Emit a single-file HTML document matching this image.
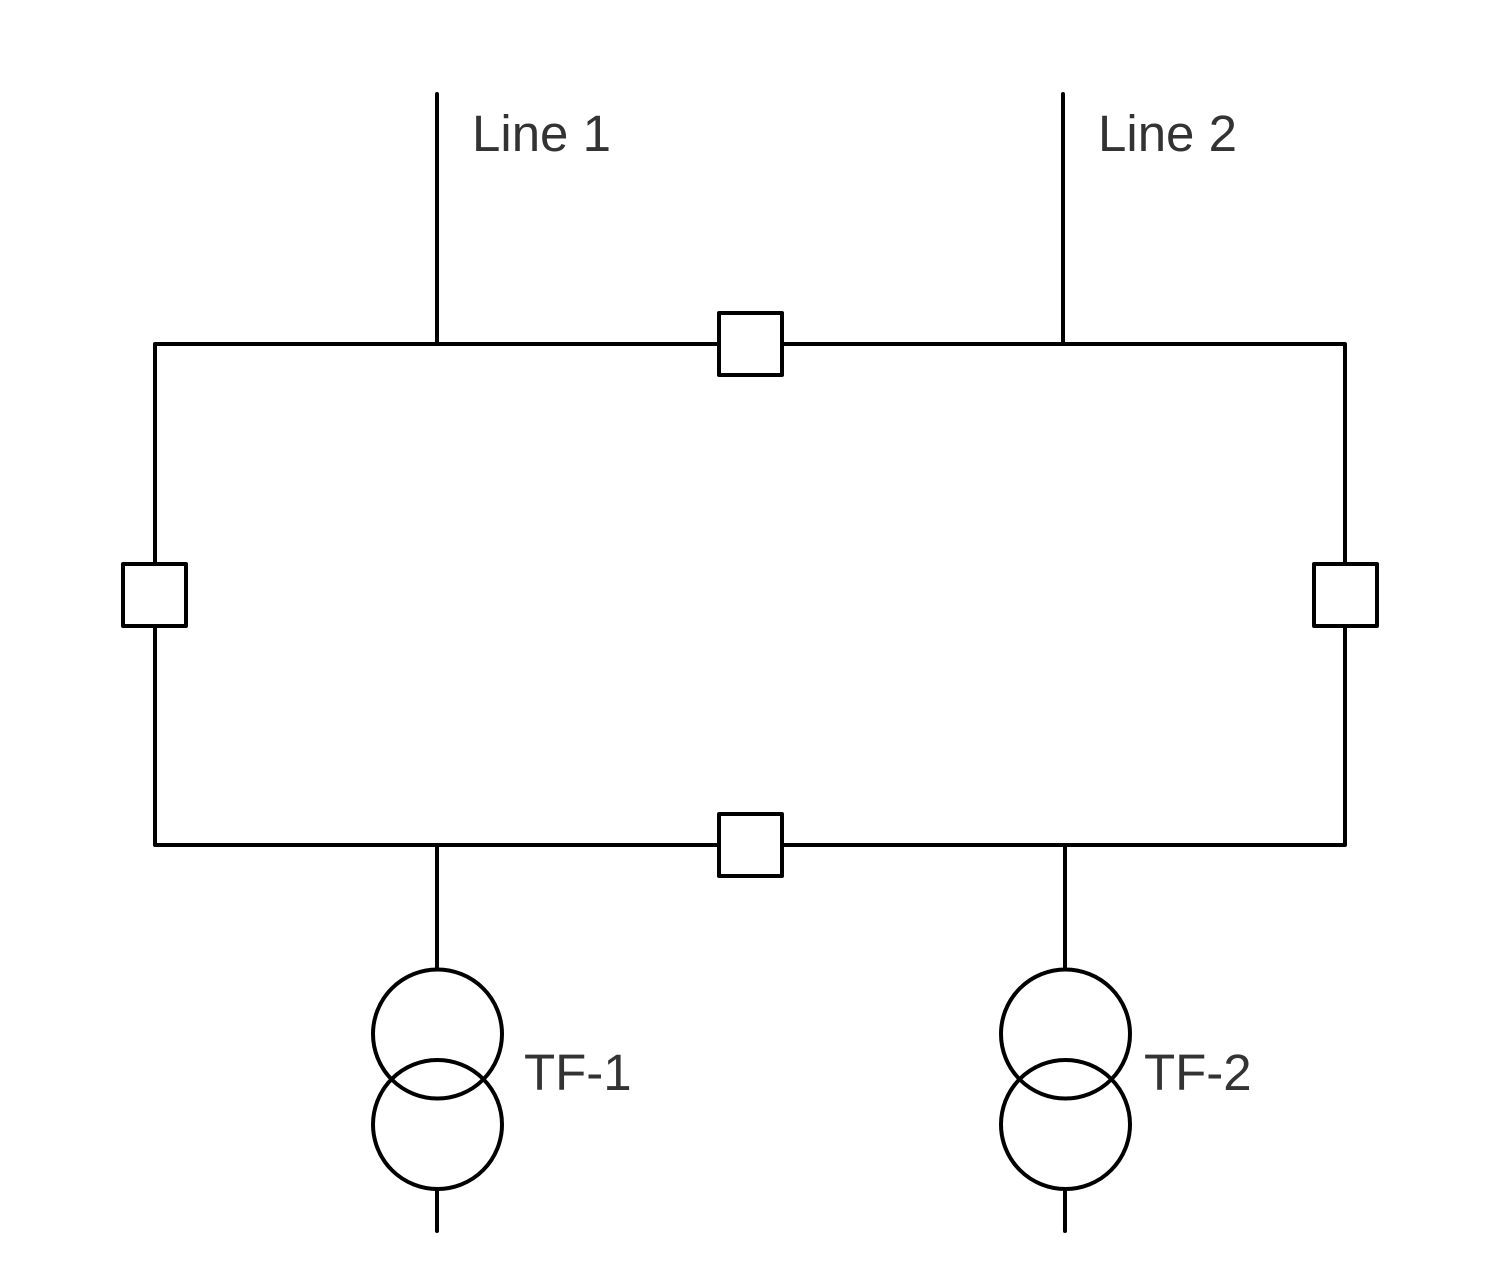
<!DOCTYPE html>
<html><head><style>html,body{margin:0;padding:0;background:#fff}svg{display:block}</style></head>
<body>
<svg width="1500" height="1282" viewBox="0 0 1500 1282" xmlns="http://www.w3.org/2000/svg">
<g stroke="#000" stroke-width="4" fill="none" stroke-linejoin="round" stroke-linecap="round">
<line x1="437" y1="94" x2="437" y2="344"/>
<line x1="1063" y1="94" x2="1063" y2="344"/>
<polyline points="719,344 155,344 155,563"/>
<polyline points="782,344 1345,344 1345,563"/>
<polyline points="155,626 155,845 719,845"/>
<polyline points="1345,626 1345,845 782,845"/>
<rect x="719" y="313" width="63" height="62" fill="#fff"/>
<rect x="719" y="814" width="63" height="62" fill="#fff"/>
<rect x="123" y="564" width="63" height="62" fill="#fff"/>
<rect x="1314" y="564" width="63" height="62" fill="#fff"/>
<line x1="437" y1="845" x2="437" y2="969"/>
<circle cx="437.5" cy="1034" r="64.5"/>
<circle cx="437.5" cy="1124.5" r="64.5"/>
<line x1="437" y1="1190" x2="437" y2="1231"/>
<line x1="1065" y1="845" x2="1065" y2="969"/>
<circle cx="1065.5" cy="1034" r="64.5"/>
<circle cx="1065.5" cy="1124.5" r="64.5"/>
<line x1="1065" y1="1190" x2="1065" y2="1231"/>
</g>
<g font-family="Liberation Sans, Arial, sans-serif" font-size="51" fill="#333">
<text x="472" y="151">Line 1</text>
<text x="1098" y="151">Line 2</text>
<text x="524" y="1090">TF-1</text>
<text x="1144" y="1090">TF-2</text>
</g>
</svg>
</body></html>
